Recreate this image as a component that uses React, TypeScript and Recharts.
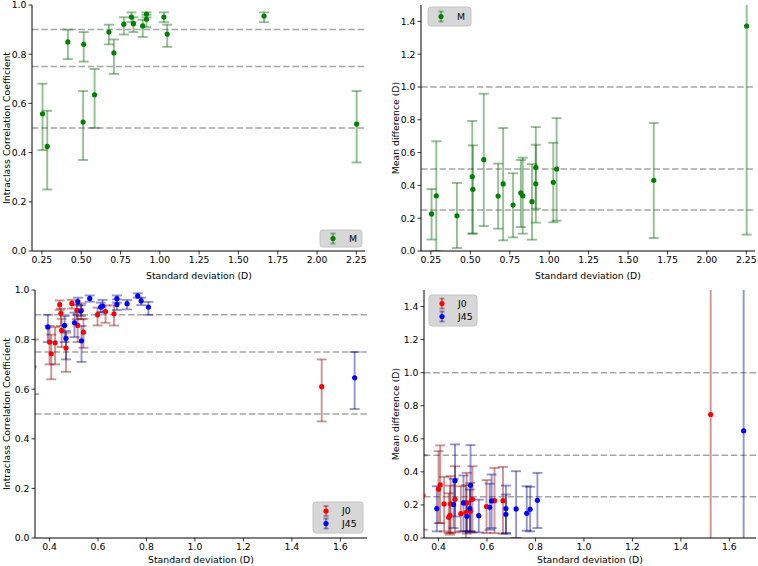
import React from 'react';
import { ScatterChart, Scatter, XAxis, YAxis, ErrorBar, ReferenceLine } from 'recharts';

// ---------- Data ----------
// M (spherical equivalent)
const mSd = [0.254, 0.284, 0.415, 0.512, 0.516, 0.585, 0.676, 0.708, 0.771, 0.82, 0.832, 0.891, 0.915, 0.915, 1.026, 1.047, 1.663, 2.252];
const mIcc = [0.558, 0.425, 0.85, 0.524, 0.84, 0.635, 0.89, 0.805, 0.922, 0.951, 0.924, 0.915, 0.963, 0.942, 0.951, 0.882, 0.955, 0.516];
const mIccLo = [0.41, 0.25, 0.78, 0.37, 0.77, 0.5, 0.84, 0.72, 0.88, 0.93, 0.89, 0.87, 0.95, 0.91, 0.93, 0.83, 0.93, 0.36];
const mIccHi = [0.68, 0.57, 0.9, 0.65, 0.89, 0.74, 0.92, 0.86, 0.95, 0.97, 0.95, 0.94, 0.97, 0.96, 0.97, 0.92, 0.97, 0.65];
const mMd = [0.226, 0.337, 0.215, 0.453, 0.376, 0.557, 0.335, 0.409, 0.28, 0.354, 0.337, 0.301, 0.51, 0.41, 0.419, 0.5, 0.431, 1.372];
const mMdLo = [0.07, 0.0, 0.018, 0.106, 0.106, 0.152, 0.136, 0.065, 0.083, 0.146, 0.106, 0.069, 0.173, 0.258, 0.175, 0.185, 0.079, 0.1];
const mMdHi = [0.378, 0.669, 0.415, 0.793, 0.644, 0.959, 0.533, 0.75, 0.474, 0.555, 0.569, 0.53, 0.756, 0.648, 0.66, 0.81, 0.78, 1.7];

// J0
const j0Sd = [0.335, 0.4, 0.407, 0.423, 0.442, 0.447, 0.45, 0.468, 0.492, 0.513, 0.516, 0.531, 0.54, 0.598, 0.631, 0.666, 1.523];
const j0Icc = [0.69, 0.79, 0.743, 0.787, 0.941, 0.906, 0.837, 0.766, 0.946, 0.918, 0.857, 0.918, 0.83, 0.9, 0.913, 0.904, 0.61];
const j0IccLo = [0.58, 0.7, 0.64, 0.7, 0.92, 0.855, 0.77, 0.67, 0.925, 0.882, 0.79, 0.882, 0.767, 0.857, 0.868, 0.857, 0.47];
const j0IccHi = [0.8, 0.855, 0.82, 0.85, 0.958, 0.925, 0.884, 0.828, 0.96, 0.942, 0.9, 0.946, 0.884, 0.929, 0.938, 0.938, 0.72];
const j0Md = [0.257, 0.295, 0.321, 0.206, 0.125, 0.137, 0.206, 0.234, 0.147, 0.154, 0.212, 0.162, 0.234, 0.19, 0.226, 0.226, 0.747];
const j0MdLo = [0.05, 0.09, 0.09, 0.04, 0.03, 0.02, 0.03, 0.034, 0.04, 0.0, 0.026, 0.04, 0.034, 0.03, 0.03, 0.026, -0.5];
const j0MdHi = [0.5, 0.525, 0.56, 0.37, 0.27, 0.317, 0.374, 0.434, 0.313, 0.32, 0.394, 0.333, 0.434, 0.35, 0.424, 0.43, 2.0];

// J45
const j45Sd = [0.393, 0.462, 0.468, 0.503, 0.517, 0.529, 0.532, 0.566, 0.611, 0.619, 0.678, 0.678, 0.72, 0.764, 0.778, 0.808, 1.659];
const j45Icc = [0.851, 0.857, 0.805, 0.868, 0.953, 0.915, 0.795, 0.966, 0.931, 0.935, 0.965, 0.942, 0.945, 0.976, 0.956, 0.931, 0.646];
const j45IccLo = [0.79, 0.79, 0.72, 0.81, 0.938, 0.895, 0.71, 0.953, 0.909, 0.911, 0.949, 0.919, 0.922, 0.969, 0.939, 0.9, 0.52];
const j45IccHi = [0.9, 0.895, 0.835, 0.909, 0.969, 0.938, 0.855, 0.978, 0.949, 0.96, 0.978, 0.962, 0.96, 0.987, 0.969, 0.952, 0.75];
const j45Md = [0.178, 0.202, 0.347, 0.212, 0.131, 0.178, 0.319, 0.135, 0.186, 0.224, 0.178, 0.143, 0.176, 0.149, 0.174, 0.228, 0.648];
const j45MdLo = [0.04, 0.06, 0.13, 0.04, 0.04, 0.034, 0.04, 0.034, 0.05, 0.06, 0.026, 0.03, 0.0, 0.044, 0.04, 0.06, -0.5];
const j45MdHi = [0.313, 0.358, 0.566, 0.378, 0.222, 0.293, 0.562, 0.232, 0.329, 0.384, 0.317, 0.263, 0.404, 0.313, 0.31, 0.394, 2.0];

// Axis ticks
const xTicksTop = [0.25, 0.5, 0.75, 1.0, 1.25, 1.5, 1.75, 2.0, 2.25];
const xTicksBottom = [0.4, 0.6, 0.8, 1.0, 1.2, 1.4, 1.6];
const yTicksIcc = [0, 0.2, 0.4, 0.6, 0.8, 1.0];
const yTicksMd = [0, 0.2, 0.4, 0.6, 0.8, 1.0, 1.2, 1.4];
const iccRefs = [0.5, 0.75, 0.9];
const mdRefs = [0.25, 0.5, 1.0];

const FONT = 'DejaVu Sans';
const FS = 9.3;

const GREEN = '#008000';
const DGREEN = '#006400';
const RED = '#ff0000';
const DRED = '#8b0000';
const BLUE = '#0000ff';
const DBLUE = '#00008b';
const EOP = 0.42;
const EW = 1.9;

function rows(xs: number[], ys: number[], lo: number[], hi: number[]) {
  return xs.map((x, i) => ({ x, y: ys[i], err: [ys[i] - lo[i], hi[i] - ys[i]] }));
}

type Series = { name: string; data: any[]; color: string; ecolor: string };

type PanelProps = {
  id: string;
  left: number;
  top: number;
  width: number;
  height: number;
  yWidth: number;
  mr: number;
  mt: number;
  xh: number;
  mb: number;
  xDomain: [number, number];
  xTicks: number[];
  xDigits: number;
  yDomain: [number, number];
  yTicks: number[];
  refs: number[];
  series: Series[];
};

const tickStyle = { fontSize: FS, fill: '#000', fontFamily: FONT };

function Panel(p: PanelProps) {
  const px = p.yWidth;
  const py = p.mt;
  const pw = p.width - p.mr - p.yWidth;
  const ph = p.height - p.mt - p.mb - p.xh;
  const clipId = `plotclip-${p.id}`;
  return (
    <div className={`pnl-${p.id}`} style={{ position: 'absolute', left: p.left, top: p.top, width: p.width, height: p.height }}>
      <style>{`.pnl-${p.id} .recharts-scatter, .pnl-${p.id} .recharts-errorBar { clip-path: url(#${clipId}); }`}</style>
      <svg width={0} height={0} style={{ position: 'absolute', left: 0, top: 0 }}>
        <defs>
          <clipPath id={clipId} clipPathUnits="userSpaceOnUse">
            <rect x={px} y={py} width={pw} height={ph} />
          </clipPath>
        </defs>
      </svg>
      <ScatterChart width={p.width} height={p.height} margin={{ top: p.mt, right: p.mr, bottom: p.mb, left: 0 }}>
        <XAxis
          dataKey="x"
          type="number"
          domain={p.xDomain}
          allowDataOverflow
          ticks={p.xTicks}
          tickFormatter={(v: number) => v.toFixed(p.xDigits)}
          height={p.xh}
          tick={tickStyle}
          tickSize={3.5}
          tickMargin={2}
          tickLine={{ stroke: '#000', strokeWidth: 0.8 }}
          axisLine={{ stroke: '#000', strokeWidth: 1 }}
          interval={0}
        />
        <YAxis
          dataKey="y"
          type="number"
          domain={p.yDomain}
          allowDataOverflow
          ticks={p.yTicks}
          tickFormatter={(v: number) => v.toFixed(1)}
          width={p.yWidth}
          tick={tickStyle}
          tickSize={3.5}
          tickMargin={2}
          tickLine={{ stroke: '#000', strokeWidth: 0.8 }}
          axisLine={{ stroke: '#000', strokeWidth: 1 }}
          interval={0}
        />
        <XAxis
          xAxisId="top"
          orientation="top"
          type="number"
          domain={p.xDomain}
          allowDataOverflow
          height={0}
          tick={false}
          tickLine={false}
          axisLine={{ stroke: '#000', strokeWidth: 1 }}
        />
        <YAxis
          yAxisId="right"
          orientation="right"
          type="number"
          domain={p.yDomain}
          allowDataOverflow
          width={0}
          tick={false}
          tickLine={false}
          axisLine={{ stroke: '#000', strokeWidth: 1 }}
        />
        {p.refs.map((r) => (
          <ReferenceLine key={r} y={r} stroke="#a6a6a6" strokeWidth={1.5} strokeDasharray="6.5 2.8" />
        ))}
        {p.series.map((s) => (
          <Scatter
            key={s.name}
            name={s.name}
            data={s.data}
            fill={s.color}
            isAnimationActive={false}
            shape={(props: any) => <circle cx={props.cx} cy={props.cy} r={2.6} fill={s.color} />}
          >
            <ErrorBar
              dataKey="err"
              direction="y"
              width={5}
              stroke={s.ecolor}
              strokeOpacity={EOP}
              strokeWidth={EW}
              isAnimationActive={false}
            />
          </Scatter>
        ))}
      </ScatterChart>
    </div>
  );
}

function LegendMark({ x, y, color, ecolor }: { x: number; y: number; color: string; ecolor: string }) {
  return (
    <g>
      <line x1={x} y1={y - 5} x2={x} y2={y + 5} stroke={ecolor} strokeOpacity={EOP} strokeWidth={EW} />
      <line x1={x - 2.5} y1={y - 5} x2={x + 2.5} y2={y - 5} stroke={ecolor} strokeOpacity={EOP} strokeWidth={EW} />
      <line x1={x - 2.5} y1={y + 5} x2={x + 2.5} y2={y + 5} stroke={ecolor} strokeOpacity={EOP} strokeWidth={EW} />
      <circle cx={x} cy={y} r={2.6} fill={color} />
    </g>
  );
}

function LegendBox({ x, y, w, h, items }: { x: number; y: number; w: number; h: number; items: { label: string; cy: number; color: string; ecolor: string }[] }) {
  return (
    <g>
      <rect x={x} y={y} width={w} height={h} rx={3} ry={3} fill="#d7d7d7" stroke="#c4c4c4" strokeWidth={1} />
      {items.map((it) => (
        <g key={it.label}>
          <LegendMark x={x + 13} y={it.cy} color={it.color} ecolor={it.ecolor} />
          <text x={x + 29} y={it.cy + 3.4} fontSize={FS} fontFamily={FONT} fill="#000">
            {it.label}
          </text>
        </g>
      ))}
    </g>
  );
}

export default function App() {
  const mIccRows = rows(mSd, mIcc, mIccLo, mIccHi);
  const mMdRows = rows(mSd, mMd, mMdLo, mMdHi);
  const j0IccRows = rows(j0Sd, j0Icc, j0IccLo, j0IccHi);
  const j45IccRows = rows(j45Sd, j45Icc, j45IccLo, j45IccHi);
  const j0MdRows = rows(j0Sd, j0Md, j0MdLo, j0MdHi);
  const j45MdRows = rows(j45Sd, j45Md, j45MdLo, j45MdHi);

  const topDomain: [number, number] = [0.187, 2.305];
  const botDomain: [number, number] = [0.34, 1.71];

  const label = (x: number, y: number, text: string, rotate = false) => (
    <text
      x={x}
      y={y}
      fontSize={FS}
      fontFamily={FONT}
      fill="#000"
      textAnchor="middle"
      dominantBaseline="central"
      transform={rotate ? `rotate(-90 ${x} ${y})` : undefined}
    >
      {text}
    </text>
  );

  return (
    <div style={{ position: 'absolute', left: 0, top: 0, width: 758, height: 566, background: '#fff', fontFamily: FONT }}>
      <Panel
        id="tl"
        left={0} top={0} width={379} height={283}
        yWidth={32} mr={14} mt={5} xh={30} mb={2}
        xDomain={topDomain} xTicks={xTicksTop} xDigits={2}
        yDomain={[0, 1]} yTicks={yTicksIcc} refs={iccRefs}
        series={[{ name: 'M', data: mIccRows, color: GREEN, ecolor: DGREEN }]}
      />
      <Panel
        id="tr"
        left={379} top={0} width={379} height={283}
        yWidth={42} mr={3} mt={5} xh={30} mb={2}
        xDomain={topDomain} xTicks={xTicksTop} xDigits={2}
        yDomain={[0, 1.5]} yTicks={yTicksMd} refs={mdRefs}
        series={[{ name: 'M', data: mMdRows, color: GREEN, ecolor: DGREEN }]}
      />
      <Panel
        id="bl"
        left={0} top={283} width={379} height={283}
        yWidth={35} mr={12} mt={7} xh={26} mb={2}
        xDomain={botDomain} xTicks={xTicksBottom} xDigits={1}
        yDomain={[0, 1]} yTicks={yTicksIcc} refs={iccRefs}
        series={[
          { name: 'J0', data: j0IccRows, color: RED, ecolor: DRED },
          { name: 'J45', data: j45IccRows, color: BLUE, ecolor: DBLUE },
        ]}
      />
      <Panel
        id="br"
        left={379} top={283} width={379} height={283}
        yWidth={45} mr={2} mt={7} xh={26} mb={2}
        xDomain={botDomain} xTicks={xTicksBottom} xDigits={1}
        yDomain={[0, 1.5]} yTicks={yTicksMd} refs={mdRefs}
        series={[
          { name: 'J0', data: j0MdRows, color: RED, ecolor: DRED },
          { name: 'J45', data: j45MdRows, color: BLUE, ecolor: DBLUE },
        ]}
      />
      <svg width={758} height={566} style={{ position: 'absolute', left: 0, top: 0, pointerEvents: 'none' }}>
        {label(199, 275, 'Standard deviation (D)')}
        {label(588, 275, 'Standard deviation (D)')}
        {label(201, 559, 'Standard deviation (D)')}
        {label(590, 559, 'Standard deviation (D)')}
        {label(6, 128, 'Intraclass Correlation Coefficient', true)}
        {label(395, 128, 'Mean difference (D)', true)}
        {label(6, 414, 'Intraclass Correlation Coefficient', true)}
        {label(395, 414, 'Mean difference (D)', true)}
        <LegendBox x={320} y={230} w={42} h={17} items={[{ label: 'M', cy: 238.5, color: GREEN, ecolor: DGREEN }]} />
        <LegendBox x={428} y={7} w={43} h={19} items={[{ label: 'M', cy: 16.5, color: GREEN, ecolor: DGREEN }]} />
        <LegendBox
          x={313} y={502} w={50} h={31}
          items={[
            { label: 'J0', cy: 511, color: RED, ecolor: DRED },
            { label: 'J45', cy: 523.5, color: BLUE, ecolor: DBLUE },
          ]}
        />
        <LegendBox
          x={429} y={295} w={48} h={31}
          items={[
            { label: 'J0', cy: 303.5, color: RED, ecolor: DRED },
            { label: 'J45', cy: 316.5, color: BLUE, ecolor: DBLUE },
          ]}
        />
      </svg>
    </div>
  );
}
